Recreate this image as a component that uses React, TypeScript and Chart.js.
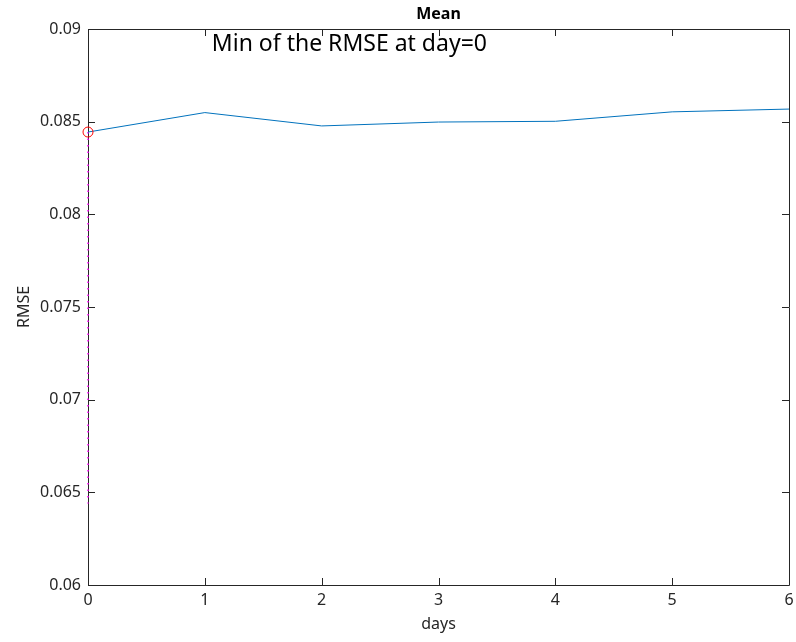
import React, { useEffect, useRef } from 'react';
import { Chart, registerables } from 'chart.js';
Chart.register(...registerables);

const days = [0, 1, 2, 3, 4, 5, 6];
const rmse = [0.08444, 0.08549, 0.08477, 0.08498, 0.08502, 0.08553, 0.08568];
const minDay = 0;
const minRmse = 0.08444;
const dropLineEnd = 0.0644;
const yTicks = [0.06, 0.065, 0.07, 0.075, 0.08, 0.085, 0.09];
const xTicks = [0, 1, 2, 3, 4, 5, 6];
const titleText = 'Mean';
const annotationText = 'Min of the RMSE at day=0';
const annotationX = 1.06;
const annotationY = 0.08915;
const xLabel = 'days';
const yLabel = 'RMSE';

const FONT = '"Noto Sans", "DejaVu Sans", sans-serif';
const AX = '#262626';

const matlabPlugin = {
  id: 'matlabDecor',
  beforeDatasetsDraw(chart: any) {
    const { ctx, chartArea: a, scales } = chart;
    const xs = scales.x;
    const ys = scales.y;
    ctx.save();
    ctx.strokeStyle = AX;
    ctx.lineWidth = 1;
    ctx.beginPath();
    ctx.rect(Math.round(a.left) + 0.5, Math.round(a.top) + 0.5, Math.round(a.right - a.left), Math.round(a.bottom - a.top));
    ctx.stroke();
    const tl = 7;
    ctx.beginPath();
    xTicks.forEach((v) => {
      const px = Math.round(xs.getPixelForValue(v)) + 0.5;
      ctx.moveTo(px, a.bottom);
      ctx.lineTo(px, a.bottom - tl);
      ctx.moveTo(px, a.top);
      ctx.lineTo(px, a.top + tl);
    });
    yTicks.forEach((v) => {
      const py = Math.round(ys.getPixelForValue(v)) + 0.5;
      ctx.moveTo(a.left, py);
      ctx.lineTo(a.left + tl, py);
      ctx.moveTo(a.right, py);
      ctx.lineTo(a.right - tl, py);
    });
    ctx.stroke();
    ctx.restore();
  },
  afterDatasetsDraw(chart: any) {
    const { ctx, chartArea: a, scales } = chart;
    const xs = scales.x;
    const ys = scales.y;
    ctx.save();
    ctx.fillStyle = '#000';
    ctx.font = `bold 16px ${FONT}`;
    ctx.textAlign = 'center';
    ctx.textBaseline = 'alphabetic';
    ctx.fillText(titleText, (a.left + a.right) / 2, 19);
    ctx.font = `23px ${FONT}`;
    ctx.textAlign = 'left';
    ctx.textBaseline = 'middle';
    ctx.fillText(annotationText, xs.getPixelForValue(annotationX), ys.getPixelForValue(annotationY));
    ctx.restore();
  },
};

export default function App() {
  const ref = useRef<HTMLCanvasElement>(null);
  useEffect(() => {
    document.body.style.margin = '0';
    const chart = new Chart(ref.current!, {
      type: 'line',
      data: {
        datasets: [
          {
            label: 'drop',
            data: [
              { x: minDay, y: minRmse },
              { x: minDay, y: dropLineEnd },
            ],
            borderColor: '#ff00ff',
            borderWidth: 1.5,
            borderDash: [1.5, 5],
            pointRadius: 0,
            clip: false,
            order: 3,
          },
          {
            label: 'RMSE',
            data: days.map((d, i) => ({ x: d, y: rmse[i] })),
            borderColor: '#0072BD',
            borderWidth: 1,
            pointRadius: 0,
            tension: 0,
            clip: false,
            order: 2,
          },
          {
            label: 'min',
            data: [{ x: minDay, y: minRmse }],
            showLine: false,
            pointRadius: 5,
            pointStyle: 'circle',
            pointBorderColor: '#ff0000',
            pointBackgroundColor: 'rgba(0,0,0,0)',
            pointBorderWidth: 1,
            clip: false,
            order: 1,
          },
        ],
      },
      options: {
        animation: false,
        responsive: false,
        devicePixelRatio: 1,
        layout: { padding: { top: 29, right: 7, left: 0, bottom: 0 } },
        plugins: { legend: { display: false }, tooltip: { enabled: false }, title: { display: false } },
        scales: {
          x: {
            type: 'linear',
            min: 0,
            max: 6,
            afterBuildTicks: (s: any) => { s.ticks = xTicks.map((v) => ({ value: v })); },
            afterFit: (s: any) => { s.height = 57; s.paddingLeft = 0; s.paddingRight = 0; },
            grid: { display: false, drawTicks: false },
            border: { display: false },
            ticks: { color: AX, font: { family: FONT, size: 16 }, padding: 6 },
            title: { display: true, text: xLabel, color: AX, font: { family: FONT, size: 16 }, padding: { top: 0, bottom: 8 } },
          },
          y: {
            type: 'linear',
            min: 0.06,
            max: 0.09,
            afterBuildTicks: (s: any) => { s.ticks = yTicks.map((v) => ({ value: v })); },
            afterFit: (s: any) => { s.width = 88; s.paddingTop = 0; s.paddingBottom = 0; },
            grid: { display: false, drawTicks: false },
            border: { display: false },
            ticks: { color: AX, font: { family: FONT, size: 16 }, padding: 7, callback: (v: any) => String(Number(v)) },
            title: { display: true, text: yLabel, color: AX, font: { family: FONT, size: 16 }, padding: { top: 15, bottom: 0 } },
          },
        },
      },
      plugins: [matlabPlugin],
    });
    return () => chart.destroy();
  }, []);
  return <canvas ref={ref} width={796} height={642} style={{ display: 'block', width: 796, height: 642 }} />;
}
